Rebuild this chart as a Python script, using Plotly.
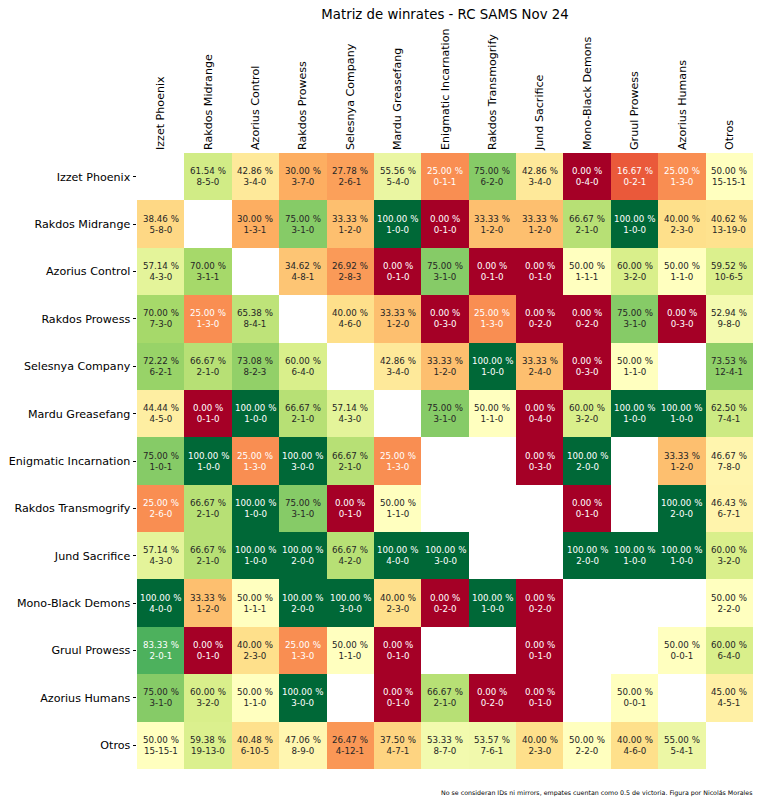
import plotly.graph_objects as go

decks = ["Izzet Phoenix", "Rakdos Midrange", "Azorius Control", "Rakdos Prowess",
         "Selesnya Company", "Mardu Greasefang", "Enigmatic Incarnation",
         "Rakdos Transmogrify", "Jund Sacrifice", "Mono-Black Demons",
         "Gruul Prowess", "Azorius Humans", "Otros"]

N = None
winrate = [
    [N, 61.54, 42.86, 30.00, 27.78, 55.56, 25.00, 75.00, 42.86, 0.00, 16.67, 25.00, 50.00],
    [38.46, N, 30.00, 75.00, 33.33, 100.00, 0.00, 33.33, 33.33, 66.67, 100.00, 40.00, 40.62],
    [57.14, 70.00, N, 34.62, 26.92, 0.00, 75.00, 0.00, 0.00, 50.00, 60.00, 50.00, 59.52],
    [70.00, 25.00, 65.38, N, 40.00, 33.33, 0.00, 25.00, 0.00, 0.00, 75.00, 0.00, 52.94],
    [72.22, 66.67, 73.08, 60.00, N, 42.86, 33.33, 100.00, 33.33, 0.00, 50.00, N, 73.53],
    [44.44, 0.00, 100.00, 66.67, 57.14, N, 75.00, 50.00, 0.00, 60.00, 100.00, 100.00, 62.50],
    [75.00, 100.00, 25.00, 100.00, 66.67, 25.00, N, N, 0.00, 100.00, N, 33.33, 46.67],
    [25.00, 66.67, 100.00, 75.00, 0.00, 50.00, N, N, N, 0.00, N, 100.00, 46.43],
    [57.14, 66.67, 100.00, 100.00, 66.67, 100.00, 100.00, N, N, 100.00, 100.00, 100.00, 60.00],
    [100.00, 33.33, 50.00, 100.00, 100.00, 40.00, 0.00, 100.00, 0.00, N, N, N, 50.00],
    [83.33, 0.00, 40.00, 25.00, 50.00, 0.00, N, N, 0.00, N, N, 50.00, 60.00],
    [75.00, 60.00, 50.00, 100.00, N, 0.00, 66.67, 0.00, 0.00, N, 50.00, N, 45.00],
    [50.00, 59.38, 40.48, 47.06, 26.47, 37.50, 53.33, 53.57, 40.00, 50.00, 40.00, 55.00, N],
]

records = [
    [N, "8-5-0", "3-4-0", "3-7-0", "2-6-1", "5-4-0", "0-1-1", "6-2-0", "3-4-0", "0-4-0", "0-2-1", "1-3-0", "15-15-1"],
    ["5-8-0", N, "1-3-1", "3-1-0", "1-2-0", "1-0-0", "0-1-0", "1-2-0", "1-2-0", "2-1-0", "1-0-0", "2-3-0", "13-19-0"],
    ["4-3-0", "3-1-1", N, "4-8-1", "2-8-3", "0-1-0", "3-1-0", "0-1-0", "0-1-0", "1-1-1", "3-2-0", "1-1-0", "10-6-5"],
    ["7-3-0", "1-3-0", "8-4-1", N, "4-6-0", "1-2-0", "0-3-0", "1-3-0", "0-2-0", "0-2-0", "3-1-0", "0-3-0", "9-8-0"],
    ["6-2-1", "2-1-0", "8-2-3", "6-4-0", N, "3-4-0", "1-2-0", "1-0-0", "2-4-0", "0-3-0", "1-1-0", N, "12-4-1"],
    ["4-5-0", "0-1-0", "1-0-0", "2-1-0", "4-3-0", N, "3-1-0", "1-1-0", "0-4-0", "3-2-0", "1-0-0", "1-0-0", "7-4-1"],
    ["1-0-1", "1-0-0", "1-3-0", "3-0-0", "2-1-0", "1-3-0", N, N, "0-3-0", "2-0-0", N, "1-2-0", "7-8-0"],
    ["2-6-0", "2-1-0", "1-0-0", "3-1-0", "0-1-0", "1-1-0", N, N, N, "0-1-0", N, "2-0-0", "6-7-1"],
    ["4-3-0", "2-1-0", "1-0-0", "2-0-0", "4-2-0", "4-0-0", "3-0-0", N, N, "2-0-0", "1-0-0", "1-0-0", "3-2-0"],
    ["4-0-0", "1-2-0", "1-1-1", "2-0-0", "3-0-0", "2-3-0", "0-2-0", "1-0-0", "0-2-0", N, N, N, "2-2-0"],
    ["2-0-1", "0-1-0", "2-3-0", "1-3-0", "1-1-0", "0-1-0", N, N, "0-1-0", N, N, "0-0-1", "6-4-0"],
    ["3-1-0", "3-2-0", "1-1-0", "3-0-0", N, "0-1-0", "2-1-0", "0-2-0", "0-1-0", N, "0-0-1", N, "4-5-1"],
    ["15-15-1", "19-13-0", "6-10-5", "8-9-0", "4-12-1", "4-7-1", "8-7-0", "7-6-1", "2-3-0", "2-2-0", "4-6-0", "5-4-1", N],
]

title = "Matriz de winrates - RC SAMS Nov 24"
footnote = "No se consideran IDs ni mirrors, empates cuentan como 0.5 de victoria. Figura por Nicolás Morales"

RDYLGN = [(165, 0, 38), (215, 48, 39), (244, 109, 67), (253, 174, 97), (254, 224, 139),
          (255, 255, 191), (217, 239, 139), (166, 217, 106), (102, 189, 99), (26, 152, 80), (0, 104, 55)]
colorscale = [[i / 10, "rgb(%d,%d,%d)" % c] for i, c in enumerate(RDYLGN)]


def cmap(v):
    t = max(0.0, min(1.0, v / 100.0)) * 10
    i = min(int(t), 9)
    f = t - i
    a, b = RDYLGN[i], RDYLGN[i + 1]
    return [(a[k] + (b[k] - a[k]) * f) / 255 for k in range(3)]


def lum(rgb):
    lin = [c / 12.92 if c <= 0.03928 else ((c + 0.055) / 1.055) ** 2.4 for c in rgb]
    return 0.2126 * lin[0] + 0.7152 * lin[1] + 0.0722 * lin[2]


fig = go.Figure(go.Heatmap(
    z=winrate, x=decks, y=decks, colorscale=colorscale, zmin=0, zmax=100,
    showscale=False, hoverongaps=False, xgap=0, ygap=0,
))

annotations = []
for r, row in enumerate(winrate):
    for c, v in enumerate(row):
        if v is None:
            continue
        color = "rgb(38,38,38)" if lum(cmap(v)) > 0.408 else "white"
        annotations.append(dict(
            x=decks[c], y=decks[r], xref="x", yref="y",
            text=f"{v:.2f} %<br>{records[r][c]}", showarrow=False,
            font=dict(family="DejaVu Sans", size=8.7, color=color),
        ))

annotations.append(dict(
    xref="x domain", yref="y domain", x=1.003, y=-0.03,
    xanchor="right", yanchor="top", text=footnote, showarrow=False,
    font=dict(family="DejaVu Sans", size=6.3, color="black"),
))

fig.update_layout(
    width=763, height=803,
    margin=dict(l=137, r=10, t=153, b=34),
    paper_bgcolor="white", plot_bgcolor="white",
    font=dict(family="DejaVu Sans", color="black"),
    title=dict(text=title, x=(137 + 753) / 2 / 763, xanchor="center",
               y=1 - 14 / 803, yanchor="middle",
               font=dict(family="DejaVu Sans", size=13.3, color="black")),
    annotations=annotations,
)

fig.update_xaxes(side="top", tickangle=-90, ticks="", ticklabelstandoff=2,
                 showgrid=False, zeroline=False, showline=False,
                 tickfont=dict(family="DejaVu Sans", size=11.1, color="black"))
fig.update_yaxes(autorange="reversed", ticks="outside", ticklen=3.5, tickwidth=0.8,
                 tickcolor="black", showgrid=False, zeroline=False, showline=False,
                 tickfont=dict(family="DejaVu Sans", size=11.1, color="black"))

fig.write_html("out.html")
